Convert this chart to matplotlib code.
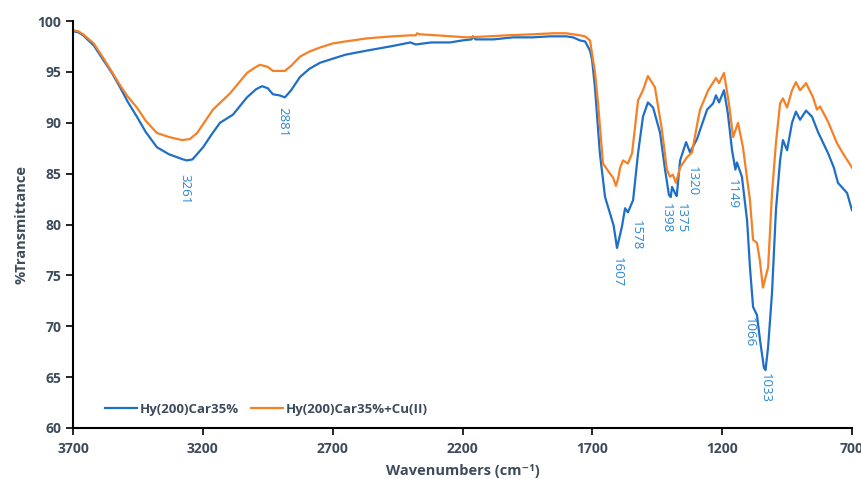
import matplotlib
matplotlib.use("Agg")
import matplotlib.pyplot as plt

# FTIR spectrum of the hydrogel before Cu(II) loading
wn_base = [3700, 3680, 3661, 3620, 3584, 3550, 3519, 3490, 3454, 3420, 3377, 3330,
           3276, 3261, 3240, 3199, 3165, 3134, 3084, 3030, 2995, 2972, 2950, 2930,
           2905, 2884, 2860, 2826, 2790, 2749, 2700, 2650, 2568, 2480, 2400, 2391,
           2380, 2320, 2248, 2200, 2165, 2160, 2150, 2080, 2006, 1930, 1863, 1800,
           1774, 1748, 1728, 1709, 1701, 1690, 1671, 1651, 1632, 1618, 1605, 1595,
           1586, 1574, 1563, 1543, 1524, 1505, 1486, 1466, 1439, 1420, 1405, 1398,
           1393, 1378, 1375, 1362, 1339, 1324, 1297, 1285, 1258, 1235, 1224, 1212,
           1193, 1178, 1162, 1149, 1143, 1124, 1104, 1093, 1081, 1066, 1054, 1039,
           1033, 1023, 1008, 993, 977, 966, 950, 931, 916, 900, 877, 854, 831, 792,
           770, 754, 719, 700]
t_base = [99.0, 98.9, 98.6, 97.6, 96.2, 94.9, 93.5, 92.1, 90.6, 89.1, 87.6, 86.9,
          86.4, 86.3, 86.4, 87.6, 88.9, 90.0, 90.8, 92.5, 93.3, 93.6, 93.4, 92.8,
          92.7, 92.5, 93.2, 94.5, 95.3, 95.9, 96.3, 96.7, 97.1, 97.5, 97.9, 97.8,
          97.7, 97.9, 97.9, 98.1, 98.2, 98.5, 98.2, 98.2, 98.4, 98.4, 98.5, 98.5,
          98.4, 98.1, 98.0, 97.1, 96.2, 93.5, 87.0, 82.7, 81.1, 79.9, 77.7, 78.8,
          79.8, 81.6, 81.2, 82.4, 87.0, 90.6, 92.0, 91.5, 89.0, 85.4, 82.9, 82.7,
          83.7, 82.9, 82.8, 86.3, 88.1, 87.1, 88.4, 89.3, 91.3, 91.9, 92.7, 92.0,
          93.2, 90.9, 87.3, 85.4, 86.1, 84.7, 80.4, 75.8, 71.9, 71.1, 68.6, 65.9,
          65.7, 68.0, 73.3, 81.4, 86.3, 88.3, 87.3, 90.0, 91.1, 90.3, 91.2, 90.6,
          89.1, 87.0, 85.6, 84.1, 83.1, 81.4]

# FTIR spectrum after Cu(II) loading
wn_cu = [3700, 3680, 3661, 3620, 3584, 3550, 3519, 3490, 3454, 3420, 3377, 3330,
         3280, 3250, 3222, 3161, 3095, 3030, 2995, 2980, 2950, 2930, 2884, 2860,
         2826, 2790, 2749, 2700, 2650, 2568, 2470, 2400, 2380, 2375, 2365, 2300,
         2183, 2100, 2029, 1930, 1852, 1800, 1748, 1728, 1709, 1690, 1678, 1659,
         1632, 1620, 1609, 1600, 1593, 1582, 1563, 1547, 1524, 1505, 1486, 1459,
         1432, 1413, 1401, 1390, 1378, 1362, 1336, 1316, 1293, 1285, 1254, 1224,
         1212, 1193, 1174, 1158, 1139, 1120, 1093, 1081, 1066, 1055, 1043, 1023,
         1008, 993, 977, 966, 950, 931, 916, 900, 877, 850, 835, 823, 792, 758,
         735, 700]
t_cu = [99.1, 99.0, 98.7, 97.8, 96.4, 95.0, 93.7, 92.6, 91.5, 90.2, 89.0, 88.6,
        88.3, 88.4, 89.0, 91.3, 92.9, 94.9, 95.5, 95.7, 95.5, 95.1, 95.1, 95.6,
        96.5, 97.0, 97.4, 97.8, 98.0, 98.3, 98.5, 98.6, 98.6, 98.8, 98.7, 98.6,
        98.4, 98.5, 98.6, 98.7, 98.8, 98.8, 98.6, 98.5, 98.1, 95.0, 91.9, 86.0,
        85.0, 84.6, 83.8, 84.6, 85.6, 86.3, 86.0, 87.0, 92.2, 93.2, 94.6, 93.5,
        89.3, 85.4, 84.7, 84.9, 84.1, 85.6, 86.6, 87.1, 90.3, 91.3, 93.2, 94.4,
        93.9, 94.9, 91.9, 88.6, 90.0, 87.6, 82.4, 78.5, 78.2, 76.5, 73.8, 75.8,
        83.1, 88.0, 91.9, 92.4, 91.5, 93.2, 94.0, 93.2, 93.9, 92.5, 91.3, 91.6,
        90.1, 88.0, 87.0, 85.6]

# Peak annotations (wavenumber label, text anchor x, text anchor y)
peak_labels = ["3261", "2881", "1607", "1578", "1398", "1375", "1320", "1149", "1066", "1033"]
label_x = [3269, 2891, 1605, 1532, 1416, 1359, 1316, 1162, 1097, 1035]
label_y = [83.5, 90.1, 75.3, 79.0, 80.6, 80.6, 84.3, 83.0, 69.4, 63.9]

series_names = ["Hy(200)Car35%", "Hy(200)Car35%+Cu(II)"]
x_ticks = [3700, 3200, 2700, 2200, 1700, 1200, 700]
y_ticks = [60, 65, 70, 75, 80, 85, 90, 95, 100]

blue = "#1F6FC6"
orange = "#F58025"
label_blue = "#2A86D3"
text_col = "#3E4B5C"

plt.rcParams["font.family"] = ["Open Sans", "DejaVu Sans"]

fig = plt.figure(figsize=(8.62, 4.79), dpi=100)
ax = fig.add_axes([0.0847, 0.1065, 0.9037, 0.8495])

ax.plot(wn_base, t_base, color=blue, lw=1.6, label=series_names[0], solid_joinstyle="round")
ax.plot(wn_cu, t_cu, color=orange, lw=1.6, label=series_names[1], solid_joinstyle="round")

for lab, lx, ly in zip(peak_labels, label_x, label_y):
    ax.text(lx, ly, lab, rotation=-90, color=label_blue, fontsize=9.5,
            ha="center", va="center")

ax.set_xlim(3700, 700)
ax.set_ylim(60, 100)
ax.set_xticks(x_ticks)
ax.set_yticks(y_ticks)

for s in ["top", "right"]:
    ax.spines[s].set_visible(False)
for s in ["left", "bottom"]:
    ax.spines[s].set_linewidth(1.5)
    ax.spines[s].set_color("black")
ax.tick_params(direction="out", length=5, width=1.2, colors="black",
               labelcolor=text_col, labelsize=10)
ax.tick_params(axis="x", pad=5)
for t in ax.get_xticklabels() + ax.get_yticklabels():
    t.set_fontweight("bold")

ax.set_xlabel("Wavenumbers (cm\u207b\u00b9)", fontsize=10.5, fontweight="bold",
              color=text_col, labelpad=6)
ax.set_ylabel("%Transmittance", fontsize=10.5, fontweight="bold",
              color=text_col, labelpad=6)

leg = ax.legend(loc="lower left", bbox_to_anchor=(0.026, 0.0), ncol=2, frameon=False,
                handlelength=2.4, columnspacing=0.9, handletextpad=0.25,
                prop={"weight": "bold", "size": 9.5})
for t in leg.get_texts():
    t.set_color(text_col)

fig.savefig("out.png", dpi=100)
